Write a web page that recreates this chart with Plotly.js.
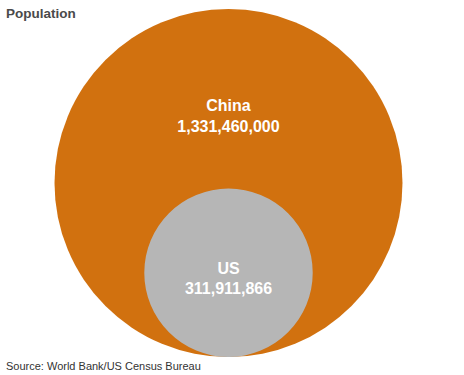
<!DOCTYPE html>
<html>
<head>
<meta charset="utf-8">
<script src="https://cdn.plot.ly/plotly-3.0.1.min.js"></script>
<style>html,body{margin:0;padding:0;background:#fff;}#chart{width:464px;height:375px;}</style>
</head>
<body>
<div id="chart"></div>
<script>
const countries = ["China", "US"];
const populations = [1331460000, 311911866];
const colors = ["#D1710F", "#B6B6B6"];

// radius proportional to sqrt(population) (area-proportional circles), bottom aligned at y=0
const radii = populations.map(p => Math.sqrt(p));
const W = 464, H = 375;
const pxRadiusBig = 174;            // pixel radius of largest circle
const k = pxRadiusBig / radii[0];   // pixels per unit
const cxPx = 228.5, baselinePx = 357;
const xRange = [-cxPx / k, (W - cxPx) / k];
const yRange = [-(H - baselinePx) / k, baselinePx / k];

const shapes = radii.map((r, i) => ({
  type: "circle", xref: "x", yref: "y",
  x0: -r, x1: r, y0: 0, y1: 2 * r,
  fillcolor: colors[i], line: {width: 0}, layer: "below"
}));

// label offsets relative to circle centre (fraction of radius)
const labelOffset = [0.375, -0.085];
const fmt = v => v.toLocaleString("en-US");
const trace = {
  type: "scatter", mode: "text",
  x: radii.map(() => 0),
  y: radii.map((r, i) => r + labelOffset[i] * r),
  text: countries.map((c, i) => "<b>" + c + "<br>" + fmt(populations[i]) + "</b>"),
  textfont: {family: "Liberation Sans, Arial, sans-serif", size: 16, color: "#ffffff"},
  textposition: "middle center",
  hoverinfo: "skip", showlegend: false
};

const layout = {
  width: W, height: H,
  margin: {l: 0, r: 0, t: 0, b: 0},
  paper_bgcolor: "#ffffff", plot_bgcolor: "#ffffff",
  xaxis: {range: xRange, visible: false, fixedrange: true},
  yaxis: {range: yRange, visible: false, fixedrange: true},
  shapes: shapes,
  showlegend: false,
  annotations: [
    {text: "<b>Population</b>", xref: "paper", yref: "paper", x: 4 / W, y: 1 - 14 / H,
     xanchor: "left", yanchor: "middle", showarrow: false,
     font: {family: "Liberation Sans, Arial, sans-serif", size: 13.5, color: "#4a4a4a"}},
    {text: "Source: World Bank/US Census Bureau", xref: "paper", yref: "paper", x: 4 / W, y: 1 - 366 / H,
     xanchor: "left", yanchor: "middle", showarrow: false,
     font: {family: "Liberation Sans, Arial, sans-serif", size: 11, color: "#333333"}}
  ]
};

Plotly.newPlot("chart", [trace], layout, {displayModeBar: false, staticPlot: true});
</script>
</body>
</html>
